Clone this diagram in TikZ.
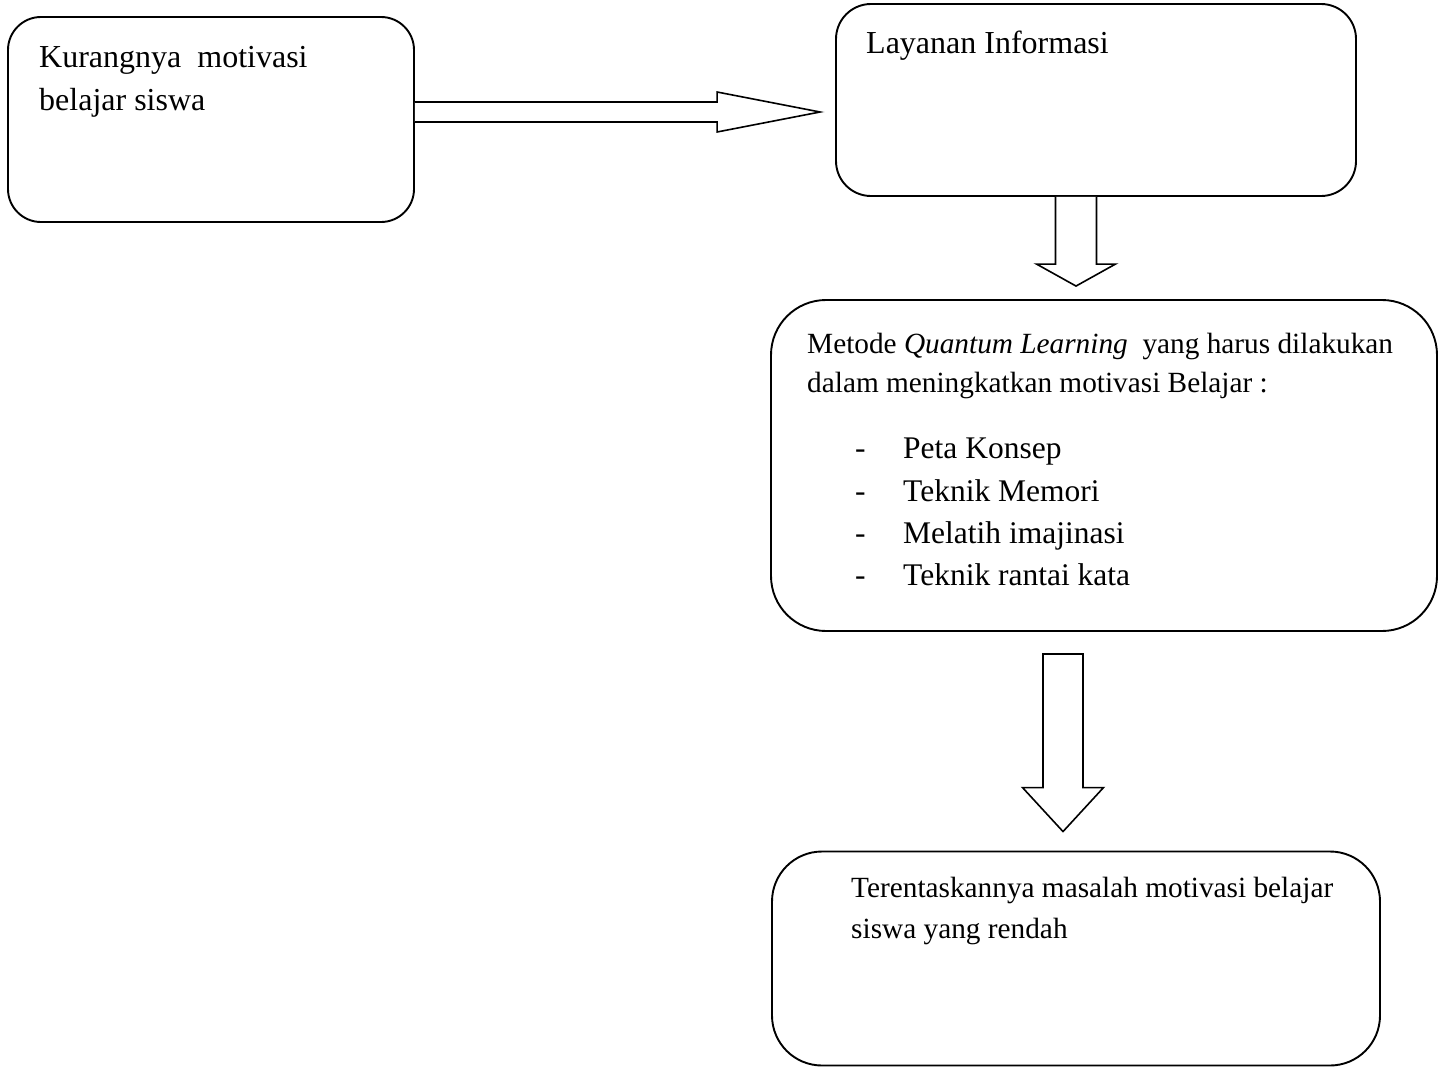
\documentclass[tikz,border=0pt]{standalone}
\usepackage{fontspec}
\setmainfont{Liberation Serif}
\usetikzlibrary{calc}
\tikzset{
  box/.style={draw, line width=1.9pt, rectangle, inner sep=0pt},
  blk/.style={draw, line width=1.6pt, line join=miter, fill=white},
  txtA/.style={anchor=base west, inner sep=0pt, font=\fontsize{32}{38}\selectfont},
  txtB/.style={anchor=base west, inner sep=0pt, font=\fontsize{29.3}{35}\selectfont},
  txtC/.style={anchor=base west, inner sep=0pt, font=\fontsize{31.5}{38}\selectfont},
}
\begin{document}
\begin{tikzpicture}[x=1pt,y=-1pt]
\useasboundingbox (0,0) rectangle (1442,1068);
% boxes
\node[box, rounded corners=33pt, minimum width=406pt, minimum height=205pt] (box1) at (211,119.5) {};
\node[box, rounded corners=35pt, minimum width=520pt, minimum height=192pt] (box2) at (1096,100) {};
\node[box, rounded corners=55pt, minimum width=666pt, minimum height=331pt] (box3) at (1104,465.5) {};
\node[box, rounded corners=50pt, minimum width=608pt, minimum height=214pt] (box4) at (1076,958.5) {};
% texts
\node[txtA] (t1a) at (39,67) {Kurangnya\ \ motivasi};
\node[txtA] (t1b) at (39,110) {belajar siswa};
\node[txtA] (t2) at (866,53) {Layanan Informasi};
\node[txtB] (t3a) at (807,353) {Metode \textit{Quantum Learning}\ \ yang harus dilakukan};
\node[txtB] (t3b) at (807,392) {dalam meningkatkan motivasi Belajar :};
\node[txtC] (d1) at (855,458) {-};
\node[txtC] (d2) at (855,501) {-};
\node[txtC] (d3) at (855,543) {-};
\node[txtC] (d4) at (855,585) {-};
\node[txtC] (i1) at (903,458) {Peta Konsep};
\node[txtC] (i2) at (903,501) {Teknik Memori};
\node[txtC] (i3) at (903,543) {Melatih imajinasi};
\node[txtC] (i4) at (903,585) {Teknik rantai kata};
\node[txtB] (t4a) at (851,897) {Terentaskannya masalah motivasi belajar};
\node[txtB] (t4b) at (851,938) {siswa yang rendah};
% block arrow box1 -> box2
\coordinate (h0) at ($(box1.east)+(0,-7.5)$);
\coordinate (htip) at ($(box2.west)+(-15,12)$);
\draw[blk] ($(h0)+(0,-10)$) -- ($(htip)+(-103,-10)$) -- ($(htip)+(-103,-20)$) -- (htip)
  -- ($(htip)+(-103,20)$) -- ($(htip)+(-103,10)$) -- ($(h0)+(0,10)$);
% block arrow box2 -> box3
\coordinate (v0) at ($(box2.south)+(-20,0)$);
\coordinate (vtip) at ($(box3.north)+(-28,-13)$);
\draw[blk] ($(v0)+(-20.5,0)$) -- ($(vtip)+(-20.5,-22)$) -- ($(vtip)+(-39.5,-22)$) -- (vtip)
  -- ($(vtip)+(39.5,-22)$) -- ($(vtip)+(20.5,-22)$) -- ($(v0)+(20.5,0)$);
% block arrow box3 -> box4
\coordinate (w0) at ($(box3.south)+(-41,22)$);
\coordinate (wtip) at ($(box4.north)+(-13,-19)$);
\draw[blk] ($(w0)+(-20,0)$) -- ($(wtip)+(-20,-44)$) -- ($(wtip)+(-40.5,-44)$) -- (wtip)
  -- ($(wtip)+(40.5,-44)$) -- ($(wtip)+(20,-44)$) -- ($(w0)+(20,0)$) -- cycle;
\end{tikzpicture}
\end{document}
